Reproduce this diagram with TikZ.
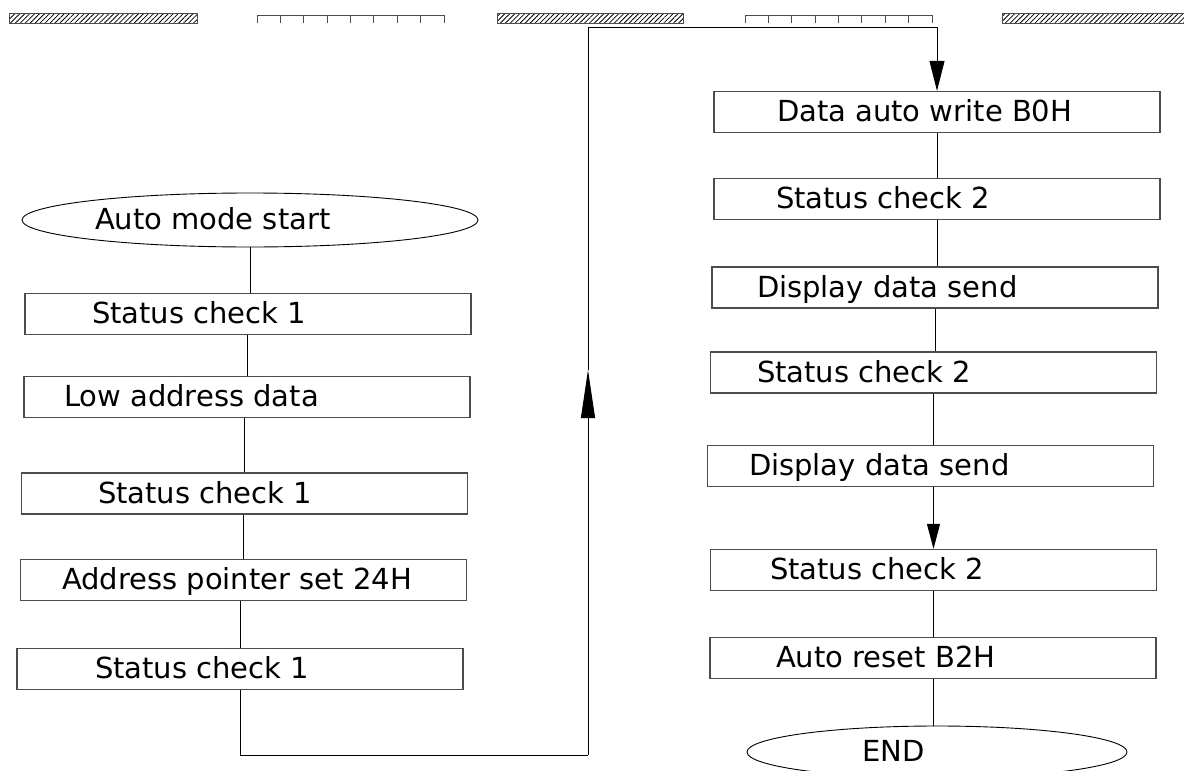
\documentclass[tikz,border=0pt]{standalone}
\usepackage{fontspec}
\setmainfont{DejaVu Sans}
\usetikzlibrary{arrows.meta,shapes.geometric,patterns.meta}

\newcommand{\offtext}[2]{\makebox[0pt][l]{\hspace*{-#1pt}#2}}

\tikzset{
  stepbox/.style={draw=black!70, line width=1.3pt, minimum width=446pt,
    minimum height=41pt, inner sep=0pt, text height=19pt, text depth=0pt,
    font=\fontsize{29}{32}\selectfont},
  ovalbox/.style={ellipse, draw, line width=0.9pt, inner sep=0pt,
    text height=19pt, text depth=0pt, font=\fontsize{29}{32}\selectfont},
  link/.style={line width=0.9pt},
}

\begin{document}
\begin{tikzpicture}[x=1pt, y=-1pt]
  \useasboundingbox (0,0) rectangle (1184,771);

  % top strip
  \foreach \xa/\xb in {9/197, 497/683, 1002/1184}
    \draw[black!70, line width=0.6pt,
      pattern={Lines[angle=45,distance=3.5pt,line width=0.8pt]}] (\xa,13) rectangle (\xb,23);
  \foreach \xa in {257, 745} {
    \draw[black!70, line width=1pt] (\xa,15) -- ++(187,0);
    \foreach \i in {0,...,8}
      \draw[black!70, line width=1pt] (\xa+\i*23.375,15) -- ++(0,8);
  }

  % left column
  \node[ovalbox, minimum width=456pt, minimum height=54pt] (start) at (250,220) {\offtext{155}{Auto mode start}};
  \node[stepbox] (chk1) at (248,314) {\offtext{156}{Status check 1}};
  \node[stepbox] (lowaddr) at (247,397) {\offtext{183}{Low address data}};
  \node[stepbox] (chk1b) at (244.5,493.5) {\offtext{146.5}{Status check 1}};
  \node[stepbox] (ptrset) at (243.5,580) {\offtext{181.5}{Address pointer set 24H}};
  \node[stepbox] (chk1c) at (240,669) {\offtext{145}{Status check 1}};

  % right column
  \node[stepbox] (autowr) at (937,112) {\offtext{160}{Data auto write B0H}};
  \node[stepbox] (chk2) at (937,199) {\offtext{161}{Status check 2}};
  \node[stepbox] (dsend) at (935,287.5) {\offtext{178}{Display data send}};
  \node[stepbox] (chk2b) at (933.5,372.5) {\offtext{176.5}{Status check 2}};
  \node[stepbox] (dsendb) at (930.5,466) {\offtext{181.5}{Display data send}};
  \node[stepbox] (chk2c) at (933.5,570) {\offtext{163.5}{Status check 2}};
  \node[stepbox] (autorst) at (933,658) {\offtext{157}{Auto reset B2H}};
  \node[ovalbox, minimum width=380pt, minimum height=52pt] (finish) at (937,752) {\offtext{75}{END}};

  \draw[link] (start.south) -- (start.south |- chk1.north);
  \draw[link] (lowaddr.north |- chk1.south) -- (lowaddr.north);
  \draw[link] (chk1b.north |- lowaddr.south) -- (chk1b.north);
  \draw[link] (ptrset.north |- chk1b.south) -- (ptrset.north);
  \draw[link] (chk1c.north |- ptrset.south) -- (chk1c.north);

  % jump to the right column
  \coordinate (lowturn) at (588,755);
  \coordinate (uptip) at (588,370);
  \coordinate (topturn) at (588,27);
  \draw[link] (chk1c.south) |- (lowturn);
  \draw[link, -{Triangle[length=48pt,width=14pt]}] (lowturn) -- (uptip);
  \draw[link, -{Triangle[length=30pt,width=15pt]}] (uptip) -- (topturn) -| (autowr.north);

  \draw[link] (autowr.south) -- (autowr.south |- chk2.north);
  \draw[link] (chk2.south) -- (chk2.south |- dsend.north);
  \draw[link] (dsend.south) -- (dsend.south |- chk2b.north);
  \draw[link] (chk2b.south) -- (chk2b.south |- dsendb.north);
  \draw[link, -{Triangle[length=25pt,width=13pt]}] (chk2c.north |- dsendb.south) -- (chk2c.north);
  \draw[link] (chk2c.south) -- (chk2c.south |- autorst.north);
  \draw[link] (autorst.south) -- (autorst.south |- finish.north);
\end{tikzpicture}
\end{document}
